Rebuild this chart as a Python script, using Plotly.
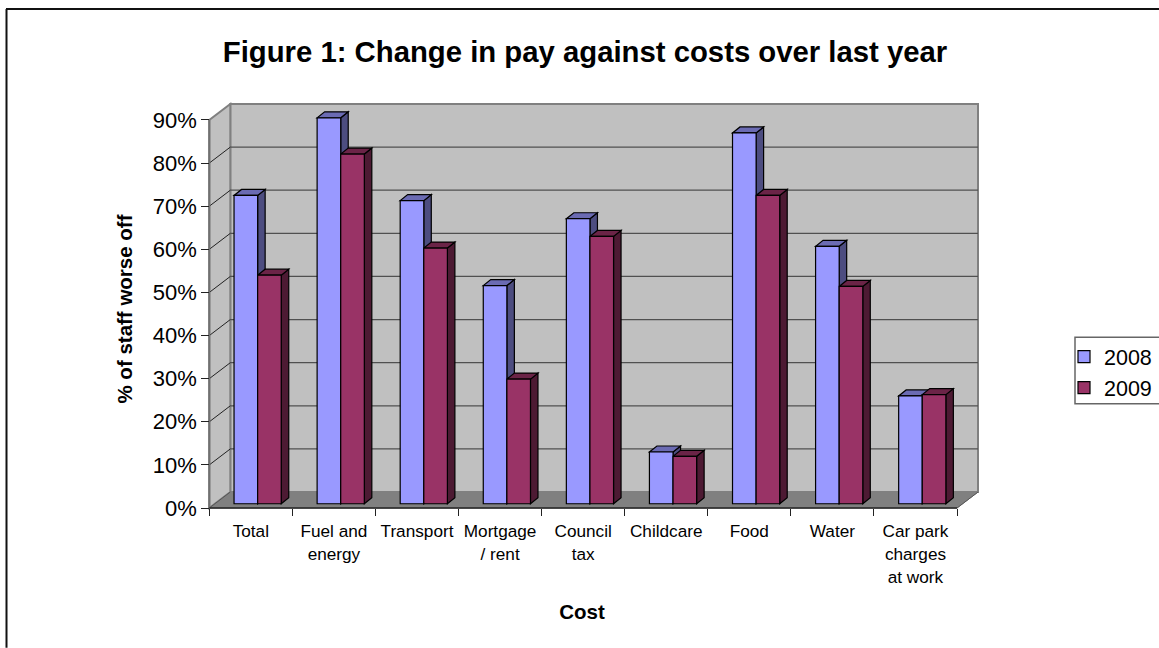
import plotly.graph_objects as go

categories = ["Total", "Fuel and<br>energy", "Transport", "Mortgage<br>/ rent", "Council<br>tax",
              "Childcare", "Food", "Water", "Car park<br>charges<br>at work"]
values_2008 = [71.5, 89.5, 70.3, 50.6, 66.1, 12.0, 86.0, 59.7, 25.0]
values_2009 = [53.0, 81.1, 59.3, 28.9, 62.0, 11.0, 71.5, 50.4, 25.3]
y_ticks = [0, 10, 20, 30, 40, 50, 60, 70, 80, 90]
title_text = "Figure 1: Change in pay against costs over last year"

W, H = 1159, 648
X0, X1, Y0, Y90 = 209.3, 957.0, 508.0, 119.5
PAD_L, PAD_R, PAD_T, PAD_B = 35.3, 12, 12, 18
PX_X = (X1 - X0) / 9
PX_Y = (Y0 - Y90) / 90
FLOOR_DX, FLOOR_DY = 21 / PX_X, 16 / PX_Y
BAR_DX, BAR_DY = 7.5 / PX_X, 6 / PX_Y
BAR_W = 23.6 / PX_X
BAR_SHIFT = 6.8 / PX_X
BAR_BASE = 4.3 / PX_Y

xr = [-0.5 - PAD_L / PX_X, 8.5 + FLOOR_DX + PAD_R / PX_X]
yr = [0 - PAD_B / PX_Y, 90 + FLOOR_DY + PAD_T / PX_Y]
m_l = X0 - PAD_L
m_r = W - (X1 + 21 + PAD_R)
m_b = H - (Y0 + PAD_B)
m_t = Y90 - 16 - PAD_T
PW = W - m_l - m_r
PH = H - m_t - m_b
WALL_TOP = 90 + FLOOR_DY
BACK_L, BACK_R = -0.5 + FLOOR_DX, 8.5 + FLOOR_DX


def px(v):
    return (v - m_l) / PW


def py(v):
    return (H - m_b - v) / PH


def poly(pts, fill, line=None, width=1, layer="below"):
    path = "M " + " L ".join(f"{x},{y}" for x, y in pts) + " Z"
    return dict(type="path", xref="x", yref="y", path=path, fillcolor=fill, layer=layer,
                line=dict(color=line or fill, width=width))


def seg(x0, y0, x1, y1, color, width):
    return dict(type="line", xref="x", yref="y", x0=x0, y0=y0, x1=x1, y1=y1, layer="below",
                line=dict(color=color, width=width))


shapes = []
# walls and floor
shapes.append(poly([(BACK_L, FLOOR_DY), (BACK_R, FLOOR_DY), (BACK_R, WALL_TOP), (BACK_L, WALL_TOP)], "#C0C0C0", "#808080", 2))
shapes.append(poly([(-0.5, 0), (BACK_L, FLOOR_DY), (BACK_L, WALL_TOP), (-0.5, 90)], "#C0C0C0", "#808080", 2))
shapes.append(poly([(-0.5, 0), (8.5, 0), (BACK_R, FLOOR_DY), (BACK_L, FLOOR_DY)], "#808080", "#808080", 1))
for t in y_ticks[1:-1]:
    shapes.append(seg(BACK_L, t + FLOOR_DY, BACK_R, t + FLOOR_DY, "#505050", 1.3))
    shapes.append(seg(-0.5, t, BACK_L, t + FLOOR_DY, "#222222", 1))
shapes.append(seg(-0.5, 0, BACK_L, FLOOR_DY, "#555555", 1))
shapes.append(seg(8.5, 0, BACK_R, FLOOR_DY, "#555555", 1))
shapes.append(seg(-0.5, 0, -0.5, 90, "#707070", 2))
shapes.append(seg(-0.5, 0, 8.5, 0, "#222222", 1.5))

# depth faces of the bars, drawn beneath the front faces
for i in range(len(categories)):
    for k, (vals, c_side, c_top) in enumerate([(values_2008, "#4D4D80", "#6B6BB3"),
                                               (values_2009, "#4D1A33", "#6B2447")]):
        xl = i + BAR_SHIFT + (k - 1) * BAR_W
        xr_ = xl + BAR_W
        yb = BAR_BASE
        yt = BAR_BASE + vals[i]
        shapes.append(poly([(xr_, yb), (xr_ + BAR_DX, yb + BAR_DY), (xr_ + BAR_DX, yt + BAR_DY), (xr_, yt)],
                           c_side, "#000000", 1.2))
        shapes.append(poly([(xl, yt), (xr_, yt), (xr_ + BAR_DX, yt + BAR_DY), (xl + BAR_DX, yt + BAR_DY)],
                           c_top, "#000000", 1.2))

# chart border, and box behind the legend
shapes.append(dict(type="line", xref="paper", yref="paper", x0=px(6.5), x1=px(6.5), y0=py(H), y1=py(8.5),
                   layer="below", line=dict(color="#111111", width=2)))
shapes.append(dict(type="line", xref="paper", yref="paper", x0=px(6), x1=px(W), y0=py(8.5), y1=py(8.5),
                   layer="below", line=dict(color="#111111", width=2)))
shapes.append(dict(type="rect", xref="paper", yref="paper", x0=px(1075), x1=px(1163), y0=py(403.5), y1=py(337),
                   layer="below", fillcolor="#FFFFFF", line=dict(color="#666666", width=1.5)))

x_idx = list(range(len(categories)))
fig = go.Figure()
fig.add_bar(name="2008", x=[i + BAR_SHIFT - BAR_W / 2 for i in x_idx], y=values_2008, base=BAR_BASE, width=BAR_W,
            marker=dict(color="#9999FF", line=dict(color="#000000", width=1.2)))
fig.add_bar(name="2009", x=[i + BAR_SHIFT + BAR_W / 2 for i in x_idx], y=values_2009, base=BAR_BASE, width=BAR_W,
            marker=dict(color="#993366", line=dict(color="#000000", width=1.2)))

LBL = 17.2
tick_text = ["<br>".join(f'<span style="font-size:{LBL}px">{p}</span>' for p in c.split("<br>")) for c in categories]

fig.update_layout(
    width=W, height=H, barmode="overlay", plot_bgcolor="rgba(0,0,0,0)", paper_bgcolor="#FFFFFF",
    margin=dict(l=m_l, r=m_r, t=m_t, b=m_b, autoexpand=False),
    font=dict(family="Liberation Sans, Arial, sans-serif", color="#000000"),
    title=dict(text=f"<b>{title_text}</b>", x=585 / W, xanchor="center", y=1 - 52 / H, yanchor="middle",
               font=dict(size=29.3, color="#000000")),
    shapes=shapes,
    showlegend=True,
    legend=dict(x=px(1064), xanchor="left", y=py(336), yanchor="top",
                bgcolor="rgba(0,0,0,0)", borderwidth=0, font=dict(size=21.5), tracegroupgap=0, traceorder="normal"),
    xaxis=dict(range=xr, domain=[0, 1], anchor="free", position=PAD_B / PH,
               tickmode="array", tickvals=x_idx, ticktext=tick_text, tickfont=dict(size=18),
               ticks="outside", ticklen=6, tickcolor="rgba(0,0,0,0)", showgrid=False, zeroline=False, showline=False,
               minor=dict(tickmode="array", tickvals=[i - 0.5 for i in range(10)], ticks="outside", ticklen=7,
                          tickcolor="#222222", tickwidth=1, showgrid=False),
               title=dict(text="<b>Cost</b>", font=dict(size=20.5), standoff=18)),
    yaxis=dict(range=yr, domain=[0, 1], anchor="free", position=PAD_L / PW,
               tickmode="array", tickvals=y_ticks, ticktext=[f"{t}%" for t in y_ticks], tickfont=dict(size=22),
               ticks="outside", ticklen=8, tickcolor="#222222", tickwidth=1.2, showgrid=False, zeroline=False, showline=False,
               title=dict(text="<b>% of staff worse off</b>", font=dict(size=20.5), standoff=13)),
)
fig.write_html("out.html", config=dict(displayModeBar=False), post_script="document.body.style.margin='0';")
